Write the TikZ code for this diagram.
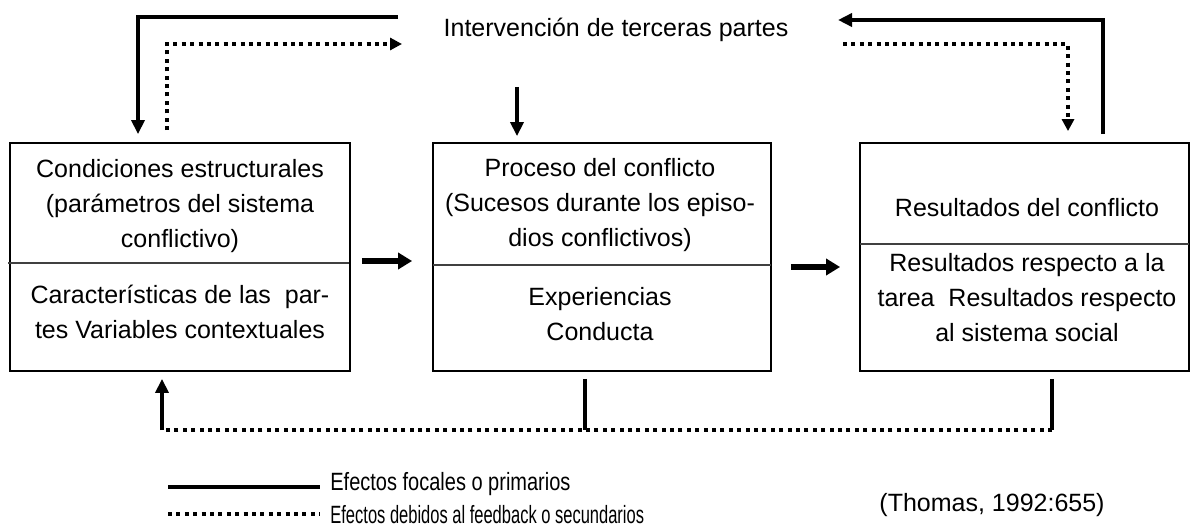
\documentclass[tikz,border=0pt]{standalone}
\usepackage{fontspec}
\setmainfont{Liberation Sans}
\usetikzlibrary{arrows.meta,calc}
\begin{document}
\begin{tikzpicture}[x=0.5pt,y=-0.5pt,
  box/.style={draw, line width=0.9pt, minimum width=#1, minimum height=114pt, inner sep=0pt},
  txt/.style={font=\fontsize{12.5}{17.5}\selectfont, align=center, inner sep=0pt},
  focal/.style={line width=2pt, -{Triangle[length=7pt,width=6.5pt]}},
  focalthick/.style={line width=3pt, -{Triangle[length=7pt,width=8pt]}},
  focalplain/.style={line width=2pt},
  fb/.style={line width=1.8pt, dash pattern=on 2pt off 2.2pt},
  fbarrow/.style={fb, -{Triangle[length=6pt,width=6pt]}},
  divider/.style={line width=0.9pt, draw=black!75}
]
\useasboundingbox (0,0) rectangle (1192,529);

% boxes
\node[box=170pt] (b1) at (180,257) {};
\node[box=169pt] (b2) at (602,257) {};
\node[box=164.5pt] (b3) at (1024.5,257) {};

% dividers
\draw[divider] (8,263) -- (349,263);
\draw[divider] (433,265) -- (771,265);
\draw[divider] (860,244) -- (1189,244);

% texts
\node[txt] (t1a) at (180,206) {Condiciones estructurales\\(parámetros del sistema\\conflictivo)};
\node[txt] (t1b) at (180,312) {Características de las\ \ par-\\tes Variables contextuales};
\node[txt] (t2a) at (600,205) {Proceso del conflicto\\(Sucesos durante los episo-\\dios conflictivos)};
\node[txt] (t2b) at (600,314) {Experiencias\\Conducta};
\node[txt] (t3a) at (1027,208) {Resultados del conflicto};
\node[txt] (t3b) at (1027,298) {Resultados respecto a la\\tarea\ \ Resultados respecto\\al sistema social};
\node[txt] (title) at (616,30) {Intervención de terceras partes};
\node[txt] (cite) at (992,505) {(Thomas, 1992:655)};
\node[txt, anchor=west] (l1) at (330,484) {\scalebox{0.8}[1]{Efectos focales o primarios}};
\node[txt, anchor=west] (l2) at (330,515) {\scalebox{0.66}[1]{Efectos debidos al feedback o secundarios}};

% coordinates
\coordinate (tlS) at (398,17);
\coordinate (tA) at (402,44);
\coordinate (tB) at (838,20);
\coordinate (tC) at (843,44);
\coordinate (tD) at (517,87);
\coordinate (fb0) at (162,430);
\coordinate (fb1) at (585,430);
\coordinate (fb2) at (1052,430);
\coordinate (la) at (168,487);
\coordinate (lb) at (320,487);
\coordinate (lc) at (168,514);
\coordinate (ld) at (320,514);

% top connectors
\draw[focal, shorten >=4pt] (tlS) -| ([xshift=-21pt]b1.north);
\draw[fbarrow, shorten <=6pt] ([xshift=-6.5pt]b1.north) |- (tA);
\draw[focal, shorten <=4pt] ([xshift=39.25pt]b3.north) |- (tB);
\draw[fbarrow, shorten >=5.5pt] (tC) -| ([xshift=21.75pt]b3.north);
\draw[focal, shorten >=3pt] (tD) -- (tD |- b2.north);

% horizontal flow
\draw[focalthick, shorten <=5.5pt, shorten >=10pt] ([yshift=-2pt]b1.east) -- ([yshift=-2pt]b2.west);
\draw[focalthick, shorten <=9.5pt, shorten >=9.5pt] ([yshift=-5pt]b2.east) -- ([yshift=-5pt]b3.west);

% bottom feedback
\draw[focalplain, shorten <=3.5pt] (b2.south -| fb1) -- (fb1);
\draw[focalplain, shorten <=3.5pt] (b3.south -| fb2) -- (fb2);
\draw[fb] (fb2) -- (fb0);
\draw[focal, shorten >=3.5pt] (fb0) -- (b1.south -| fb0);

% legend
\draw[focalplain] (la) -- (lb);
\draw[fb] (lc) -- (ld);
\end{tikzpicture}
\end{document}
